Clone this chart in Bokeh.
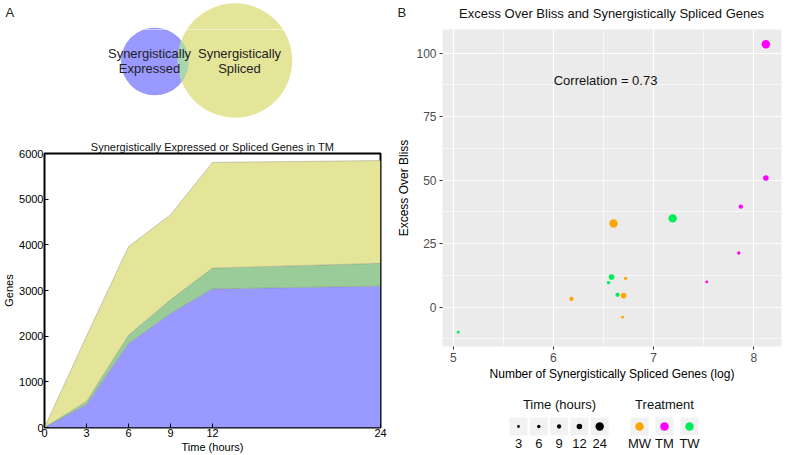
import numpy as np
from bokeh.plotting import figure
from bokeh.models import Range1d, FixedTicker, Label
from bokeh.layouts import row, column
from bokeh.embed import file_html
from bokeh.resources import INLINE
from bokeh.core.properties import value

FONT = "Liberation Sans"

# ---------------- data: panel A (stacked areas) ----------------
time_hours = [0, 3, 6, 9, 12, 24]
expressed_only = [0, 500, 1835, 2495, 3035, 3095]
expressed_and_spliced = [0, 70, 185, 300, 455, 500]
spliced_only = [0, 1430, 1940, 1865, 2315, 2250]
time_ticks = [0, 3, 6, 9, 12, 24]
gene_ticks = [0, 1000, 2000, 3000, 4000, 5000, 6000]

# ---------------- data: panel B (scatter) ----------------
treatments = ["MW", "TM", "TW"]
times = [3, 6, 9, 12, 24]
point_treatment = ["MW"] * 5 + ["TM"] * 5 + ["TW"] * 5
point_time = [3, 6, 9, 12, 24] * 3
log_spliced_genes = [6.69, 6.72, 6.18, 6.70, 6.60,
                     7.53, 7.85, 7.87, 8.12, 8.12,
                     5.05, 6.55, 6.64, 6.58, 7.19]
excess_over_bliss = [-4.0, 11.3, 3.2, 4.5, 32.9,
                     9.9, 21.3, 39.5, 50.8, 103.5,
                     -9.9, 9.6, 4.8, 11.8, 34.9]
correlation = 0.73
x_ticks = [5, 6, 7, 8]
y_ticks = [0, 25, 50, 75, 100]

# ---------------- styles / layout ----------------
BLUE = "#9999FF"
GREEN = "#99CC99"
YELLOW = "#E5E599"
LENS = "#A9D6AE"
treat_color = {"MW": "#FFA500", "TM": "#FF00FF", "TW": "#00EE55"}
time_size = {3: 2.8, 6: 3.4, 9: 4.3, 12: 5.6, 24: 8.4}

W, H = 786, 455
LEFT_W = 392
TOP_H = 29
A_FL, A_FR = 44, 380      # left column plot frame (frames in a column are aligned)
B_FL, B_FR = 442, 781     # right column plot frame
VENN_BOTTOM = 130
SC_BOTTOM = 383


def blank(width, height, x0, x1, y0, y1):
    f = figure(width=width, height=height, x_range=Range1d(x0, x1), y_range=Range1d(y0, y1),
               output_backend="svg", toolbar_location=None, min_border=0,
               x_axis_type=None, y_axis_type=None)
    f.outline_line_color = None
    f.xgrid.visible = False
    f.ygrid.visible = False
    return f


# Venn geometry (page pixels)
c1 = (154.3, 61.0, 33.8)
c2 = (234.5, 60.0, 57.2)


def draw_venn_circles(f):
    f.circle(x=[c1[0]], y=[c1[1]], radius=c1[2], fill_color=BLUE, line_color=None)
    f.circle(x=[c2[0]], y=[c2[1]], radius=c2[2], fill_color=YELLOW, line_color=None)


# ---------------- top strip (panel letters, scatter title) ----------------
strip = blank(W, TOP_H, 0, W, TOP_H, 0)
draw_venn_circles(strip)
strip.text(x=[5, 397], y=[12, 12], text=["A", "B"], text_align="left", text_baseline="middle",
           text_font=value(FONT), text_font_size="13px", text_color="#222222")
strip.text(x=[611], y=[13], text=["Excess Over Bliss and Synergistically Spliced Genes"],
           text_align="center", text_baseline="middle", text_font=value(FONT),
           text_font_size="13px", text_color="#111111")

# ---------------- Venn (top left) ----------------
venn = blank(LEFT_W, VENN_BOTTOM - TOP_H, A_FL, A_FR, VENN_BOTTOM, TOP_H)
draw_venn_circles(venn)
ang = np.linspace(0, 2 * np.pi, 720)
p1 = np.c_[c1[0] + c1[2] * np.cos(ang), c1[1] + c1[2] * np.sin(ang)]
p2 = np.c_[c2[0] + c2[2] * np.cos(ang), c2[1] + c2[2] * np.sin(ang)]
in2 = np.hypot(p1[:, 0] - c2[0], p1[:, 1] - c2[1]) <= c2[2]
in1 = np.hypot(p2[:, 0] - c1[0], p2[:, 1] - c1[1]) <= c1[2]
pts = np.vstack([p1[in2], p2[in1]])
cx, cy = pts.mean(axis=0)
pts = pts[np.argsort(np.arctan2(pts[:, 1] - cy, pts[:, 0] - cx))]
venn.patch(x=list(pts[:, 0]), y=list(pts[:, 1]), fill_color=LENS, line_color=None)
venn.text(x=[149, 149, 239, 239], y=[53, 68, 53, 68],
          text=["Synergistically", "Expressed", "Synergistically", "Spliced"],
          text_align="center", text_baseline="middle", text_font=value(FONT),
          text_font_size="13px", text_color="#222222")

# ---------------- stacked area (bottom left) ----------------
area = figure(width=LEFT_W, height=H - VENN_BOTTOM, x_range=Range1d(0, 24), y_range=Range1d(0, 6000),
              output_backend="svg", toolbar_location=None,
              min_border_left=A_FL, min_border_right=LEFT_W - A_FR,
              min_border_top=153 - VENN_BOTTOM, min_border_bottom=0)
top1 = np.array(expressed_only, dtype=float)
top2 = top1 + np.array(expressed_and_spliced)
top3 = top2 + np.array(spliced_only)
area.varea(x=time_hours, y1=[0] * len(time_hours), y2=list(top1), fill_color=BLUE)
area.varea(x=time_hours, y1=list(top1), y2=list(top2), fill_color=GREEN)
area.varea(x=time_hours, y1=list(top2), y2=list(top3), fill_color=YELLOW)
for t in (top1, top2, top3):
    area.line(x=time_hours, y=list(t), line_color="#777777", line_width=0.6, line_alpha=0.6)
area.title.text = "Synergistically Expressed or Spliced Genes in TM"
area.title.align = "center"
area.title.text_font = FONT
area.title.text_font_size = "11px"
area.title.text_font_style = "normal"
area.title.text_color = "#111111"
area.title.standoff = 2
area.xaxis.ticker = FixedTicker(ticks=time_ticks)
area.yaxis.ticker = FixedTicker(ticks=gene_ticks)
area.xaxis.axis_label = "Time (hours)"
area.yaxis.axis_label = "Genes"
for ax in (area.xaxis, area.yaxis):
    ax.axis_line_color = None
    ax.major_tick_in = 4
    ax.major_tick_out = 0
    ax.major_tick_line_color = "black"
    ax.minor_tick_line_color = None
    ax.major_label_text_font = FONT
    ax.major_label_text_font_size = "11px"
    ax.major_label_text_color = "black"
    ax.major_label_standoff = 1
    ax.axis_label_text_font = FONT
    ax.axis_label_text_font_size = "11px"
    ax.axis_label_text_font_style = "normal"
    ax.axis_label_text_color = "black"
    ax.axis_label_standoff = 1
area.xgrid.visible = False
area.ygrid.visible = False
area.outline_line_color = "black"
area.outline_line_width = 2

# ---------------- scatter (right) ----------------
RIGHT_W = W - LEFT_W
sc = figure(width=RIGHT_W, height=SC_BOTTOM - TOP_H, x_range=Range1d(4.893, 8.276),
            y_range=Range1d(-15.55, 109.3),
            output_backend="svg", toolbar_location=None,
            min_border_left=B_FL - LEFT_W, min_border_right=W - B_FR,
            min_border_top=0, min_border_bottom=0)
sc.background_fill_color = "#EBEBEB"
sc.outline_line_color = None
x_minor = [(a + b) / 2 for a, b in zip(x_ticks[:-1], x_ticks[1:])] + [x_ticks[0] - 0.5, x_ticks[-1] + 0.5]
y_minor = [(a + b) / 2 for a, b in zip(y_ticks[:-1], y_ticks[1:])] + [y_ticks[0] - 12.5]
sc.xaxis.ticker = FixedTicker(ticks=x_ticks, minor_ticks=x_minor)
sc.yaxis.ticker = FixedTicker(ticks=y_ticks, minor_ticks=y_minor)
for g in (sc.xgrid, sc.ygrid):
    g.grid_line_color = "white"
    g.grid_line_width = 1.2
    g.minor_grid_line_color = "white"
    g.minor_grid_line_width = 0.6
sc.xaxis.axis_label = "Number of Synergistically Spliced Genes (log)"
sc.yaxis.axis_label = "Excess Over Bliss"
for ax in (sc.xaxis, sc.yaxis):
    ax.axis_line_color = None
    ax.major_tick_out = 3
    ax.major_tick_in = 0
    ax.major_tick_line_color = "#333333"
    ax.minor_tick_line_color = None
    ax.major_label_text_font = FONT
    ax.major_label_text_font_size = "12px"
    ax.major_label_text_color = "#4D4D4D"
    ax.major_label_standoff = 2
    ax.axis_label_text_font = FONT
    ax.axis_label_text_font_size = "12px"
    ax.axis_label_text_font_style = "normal"
    ax.axis_label_text_color = "black"
    ax.axis_label_standoff = 2
sc.scatter(x=log_spliced_genes, y=excess_over_bliss,
           size=[time_size[t] for t in point_time],
           fill_color=[treat_color[t] for t in point_treatment], line_color=None)
sc.add_layout(Label(x=6.52, y=89.4, text=f"Correlation = {correlation:.2f}",
                    text_align="center", text_baseline="middle", text_font=FONT,
                    text_font_size="13px", text_color="#111111"))

# ---------------- legend (bottom right) ----------------
leg = blank(RIGHT_W, H - SC_BOTTOM, B_FL, B_FR, H, SC_BOTTOM)
tx = [518 + 20.3 * i for i in range(len(times))]
trx = [639 + 25 * i for i in range(len(treatments))]
key_y, lab_y, tit_y = 426, 443, 404
leg.scatter(x=tx + trx, y=[key_y] * (len(tx) + len(trx)), marker="square", size=18,
            fill_color="#F2F2F2", line_color=None)
leg.scatter(x=tx, y=[key_y] * len(tx), size=[time_size[t] for t in times],
            fill_color="black", line_color=None)
leg.scatter(x=trx, y=[key_y] * len(trx), size=8.5,
            fill_color=[treat_color[t] for t in treatments], line_color=None)
leg.text(x=tx + trx, y=[lab_y] * (len(tx) + len(trx)),
         text=[str(t) for t in times] + treatments,
         text_align="center", text_baseline="middle", text_font=value(FONT),
         text_font_size="13px", text_color="#111111")
leg.text(x=[559, 664], y=[tit_y, tit_y], text=["Time (hours)", "Treatment"],
         text_align="center", text_baseline="middle", text_font=value(FONT),
         text_font_size="13px", text_color="#111111")

layout = column(strip, row(column(venn, area), column(sc, leg)))
open("out.html", "w").write(file_html(layout, INLINE))
